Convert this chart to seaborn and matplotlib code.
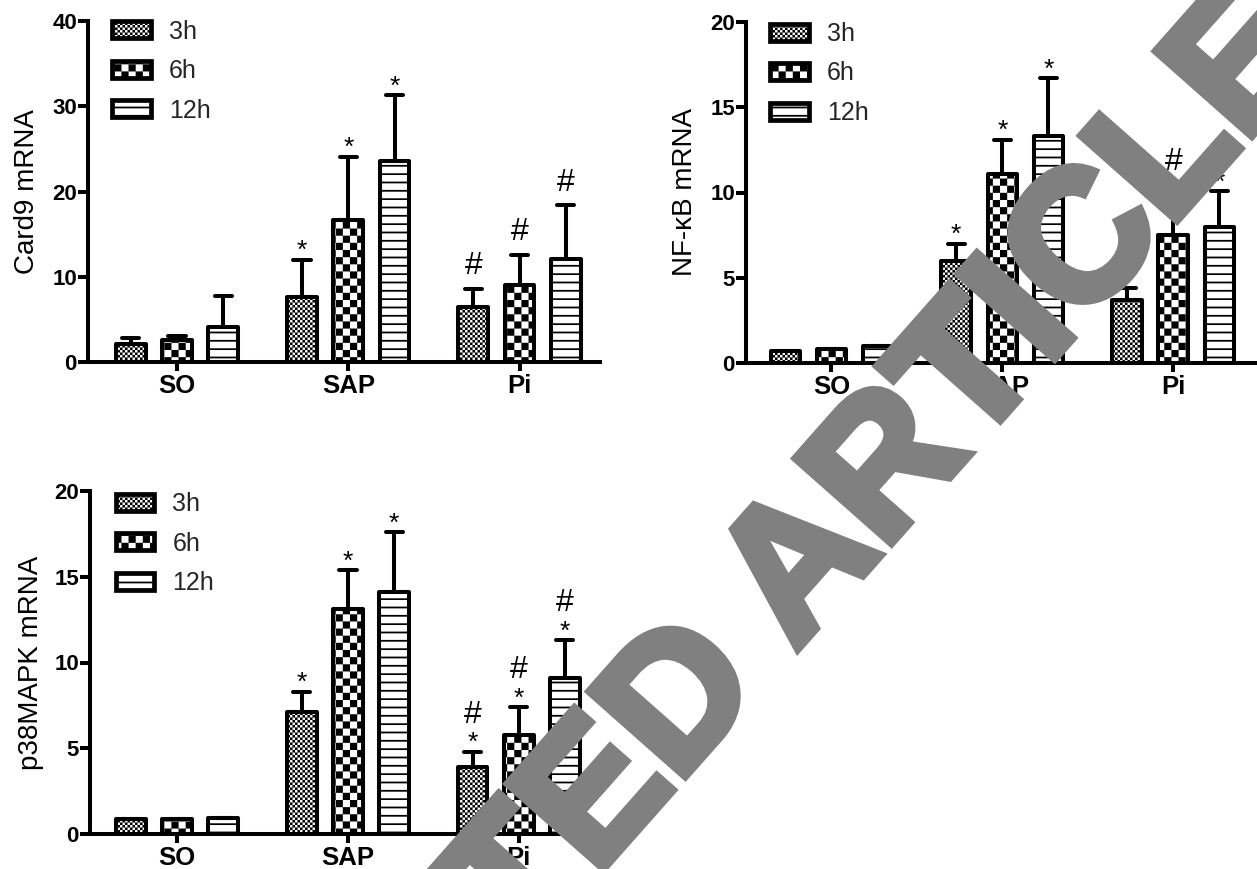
import numpy as np
import pandas as pd
import matplotlib
matplotlib.use("Agg")
import matplotlib.pyplot as plt
import matplotlib.hatch as mhatch
import matplotlib.patches as mpatches
import matplotlib.patheffects as pe
from matplotlib.path import Path
import seaborn as sns

# ---------------- data ----------------
groups = ["SO", "SAP", "Pi"]
times = ["3h", "6h", "12h"]

card9_mean = [2.1, 2.6, 4.1, 7.6, 16.7, 23.6, 6.4, 9.0, 12.1]
card9_upper = [2.8, 3.0, 7.7, 12.0, 24.1, 31.3, 8.6, 12.6, 18.4]
card9_marks = ["", "", "", "*", "*", "*", "#", "#", "#"]

nfkb_mean = [0.7, 0.8, 1.0, 6.0, 11.1, 13.3, 3.7, 7.5, 8.0]
nfkb_upper = [0.7, 0.8, 1.0, 7.0, 13.1, 16.7, 4.4, 9.6, 10.1]
nfkb_marks = ["", "", "", "*", "*", "*", "*#", "*#", "*#"]

p38_mean = [0.85, 0.85, 0.95, 7.1, 13.1, 14.1, 3.9, 5.8, 9.1]
p38_upper = [0.85, 0.85, 0.95, 8.3, 15.4, 17.6, 4.8, 7.4, 11.3]
p38_marks = ["", "", "", "*", "*", "*", "*#", "*#", "*#"]

ylabels = ["Card9 mRNA", "NF-\u03baB mRNA", "p38MAPK mRNA"]
ylims = [40, 20, 20]
yticks = [[0, 10, 20, 30, 40], [0, 5, 10, 15, 20], [0, 5, 10, 15, 20]]
watermark = "RETRACTED ARTICLE"

# ---------------- custom block hatches (checkers / stripes) ----------------
class BlockHatch(mhatch.HatchPatternBase):
    def __init__(self, hatch, density):
        rects = []
        for ch, n in (("o", 40), ("O", 14)):
            if hatch is not None and ch in hatch:
                s = 1.0 / n
                for i in range(n):
                    for j in range(n):
                        if (i + j) % 2 == 0:
                            rects.append((i * s, j * s, s, s))
        if hatch is not None and "-" in hatch:
            n = 12
            for j in range(n):
                rects.append((0.0, j / n, 1.0, 0.017))
        self.rects = rects
        self.num_vertices = 5 * len(rects)

    def set_vertices_and_codes(self, vertices, codes):
        for k, (x, y, w, h) in enumerate(self.rects):
            vertices[5 * k:5 * k + 5] = [(x, y), (x + w, y), (x + w, y + h), (x, y + h), (x, y)]
            codes[5 * k:5 * k + 5] = [Path.MOVETO, Path.LINETO, Path.LINETO,
                                      Path.LINETO, Path.CLOSEPOLY]


mhatch._hatch_types = [BlockHatch]
hatches = {"3h": "o", "6h": "O", "12h": "-"}

# ---------------- style ----------------
sns.set_style("white")
plt.rcParams["font.family"] = ["Liberation Sans", "DejaVu Sans"]
plt.rcParams["hatch.linewidth"] = 0.05
plt.rcParams["hatch.color"] = "black"

LW = 2.9
W, H = 1257, 869
fig = plt.figure(figsize=(W / 100, H / 100), dpi=100)
fig.patch.set_facecolor("white")

# axes rectangles in pixels: left, right, top(y of max), bottom(y of 0)
rects = [(88, 600, 21, 362), (746, 1257, 22, 363), (90, 582, 491, 834)]
xlims = [(-0.52, 2.47), (-0.50, 2.49), (-0.51, 2.37)]
legend_anchor = [(0.047, 1.004), (0.047, 1.0), (0.052, 0.997)]

datasets = [(card9_mean, card9_upper, card9_marks),
            (nfkb_mean, nfkb_upper, nfkb_marks),
            (p38_mean, p38_upper, p38_marks)]


def make_df(means, uppers):
    rows = []
    for k, (m, u) in enumerate(zip(means, uppers)):
        g = groups[k // 3]
        t = times[k % 3]
        rows.append((g, t, m))
        rows.append((g, t, u))
    return pd.DataFrame(rows, columns=["group", "time", "value"])


for idx, ((means, uppers, marks), (l, r, t, b)) in enumerate(zip(datasets, rects)):
    ax = fig.add_axes([l / W, 1 - b / H, (r - l) / W, (b - t) / H])
    ax.set_facecolor("none")
    df = make_df(means, uppers)
    sns.barplot(data=df, x="group", y="value", hue="time", order=groups, hue_order=times,
                estimator="min", errorbar=lambda v: (v.min(), v.max()),
                palette={tt: "white" for tt in times}, edgecolor="black", linewidth=LW,
                width=0.81, gap=0.36, capsize=0.3,
                err_kws={"color": "black", "linewidth": LW, "solid_capstyle": "round"},
                legend=False, ax=ax)
    for cont, tt in zip(ax.containers, times):
        for p in cont:
            p.set_hatch(hatches[tt])
            p.set_joinstyle("round")

    # significance marks
    for hi, cont in enumerate(ax.containers):
        for gi, p in enumerate(cont):
            k = gi * 3 + hi
            mk = marks[k]
            xc = p.get_x() + p.get_width() / 2
            top = uppers[k]
            if "*" in mk:
                ax.annotate("*", xy=(xc, top), xytext=(0, 1.0), textcoords="offset points",
                            ha="center", va="baseline", fontsize=19, color="black")
            if "#" in mk:
                off = 21 if "*" in mk else 10.5
                ax.annotate("#", xy=(xc, top), xytext=(0, off), textcoords="offset points",
                            ha="center", va="baseline", fontsize=23, color="black")

    ax.set_xlim(*xlims[idx])
    ax.set_ylim(0, ylims[idx])
    ax.set_yticks(yticks[idx])
    ax.set_xlabel("")
    ax.set_ylabel(ylabels[idx], fontsize=20, color="black")
    ax.yaxis.set_label_coords(-0.094, 0.5)
    sns.despine(ax=ax)
    for s in ("left", "bottom"):
        ax.spines[s].set_linewidth(LW)
        ax.spines[s].set_color("black")
    ax.tick_params(axis="y", length=7, width=LW, pad=1, labelsize=16, colors="black",
                   left=True)
    ax.tick_params(axis="x", length=6.5, width=LW, pad=2, labelsize=18.5, colors="black",
                   bottom=True)
    for lab in ax.get_xticklabels() + ax.get_yticklabels():
        lab.set_fontweight("bold")

    handles = [mpatches.Patch(facecolor="white", edgecolor="black", hatch=hatches[tt],
                              linewidth=3.4, joinstyle="round", label=tt) for tt in times]
    ax.legend(handles=handles, loc="upper left", bbox_to_anchor=legend_anchor[idx],
              frameon=False, fontsize=18, handlelength=1.55, handleheight=0.66,
              labelspacing=0.62, handletextpad=0.72, borderpad=0, borderaxespad=0)

# watermark
fig.text(668 / W, 1 - 795 / H, watermark, rotation=48.5, rotation_mode="anchor",
         ha="center", va="baseline", fontsize=133, fontweight="bold", color="#808080",
         zorder=10,
         path_effects=[pe.withStroke(linewidth=6.5, foreground="#808080",
                                     joinstyle="miter")])

fig.savefig("out.png", dpi=100, facecolor="white")
